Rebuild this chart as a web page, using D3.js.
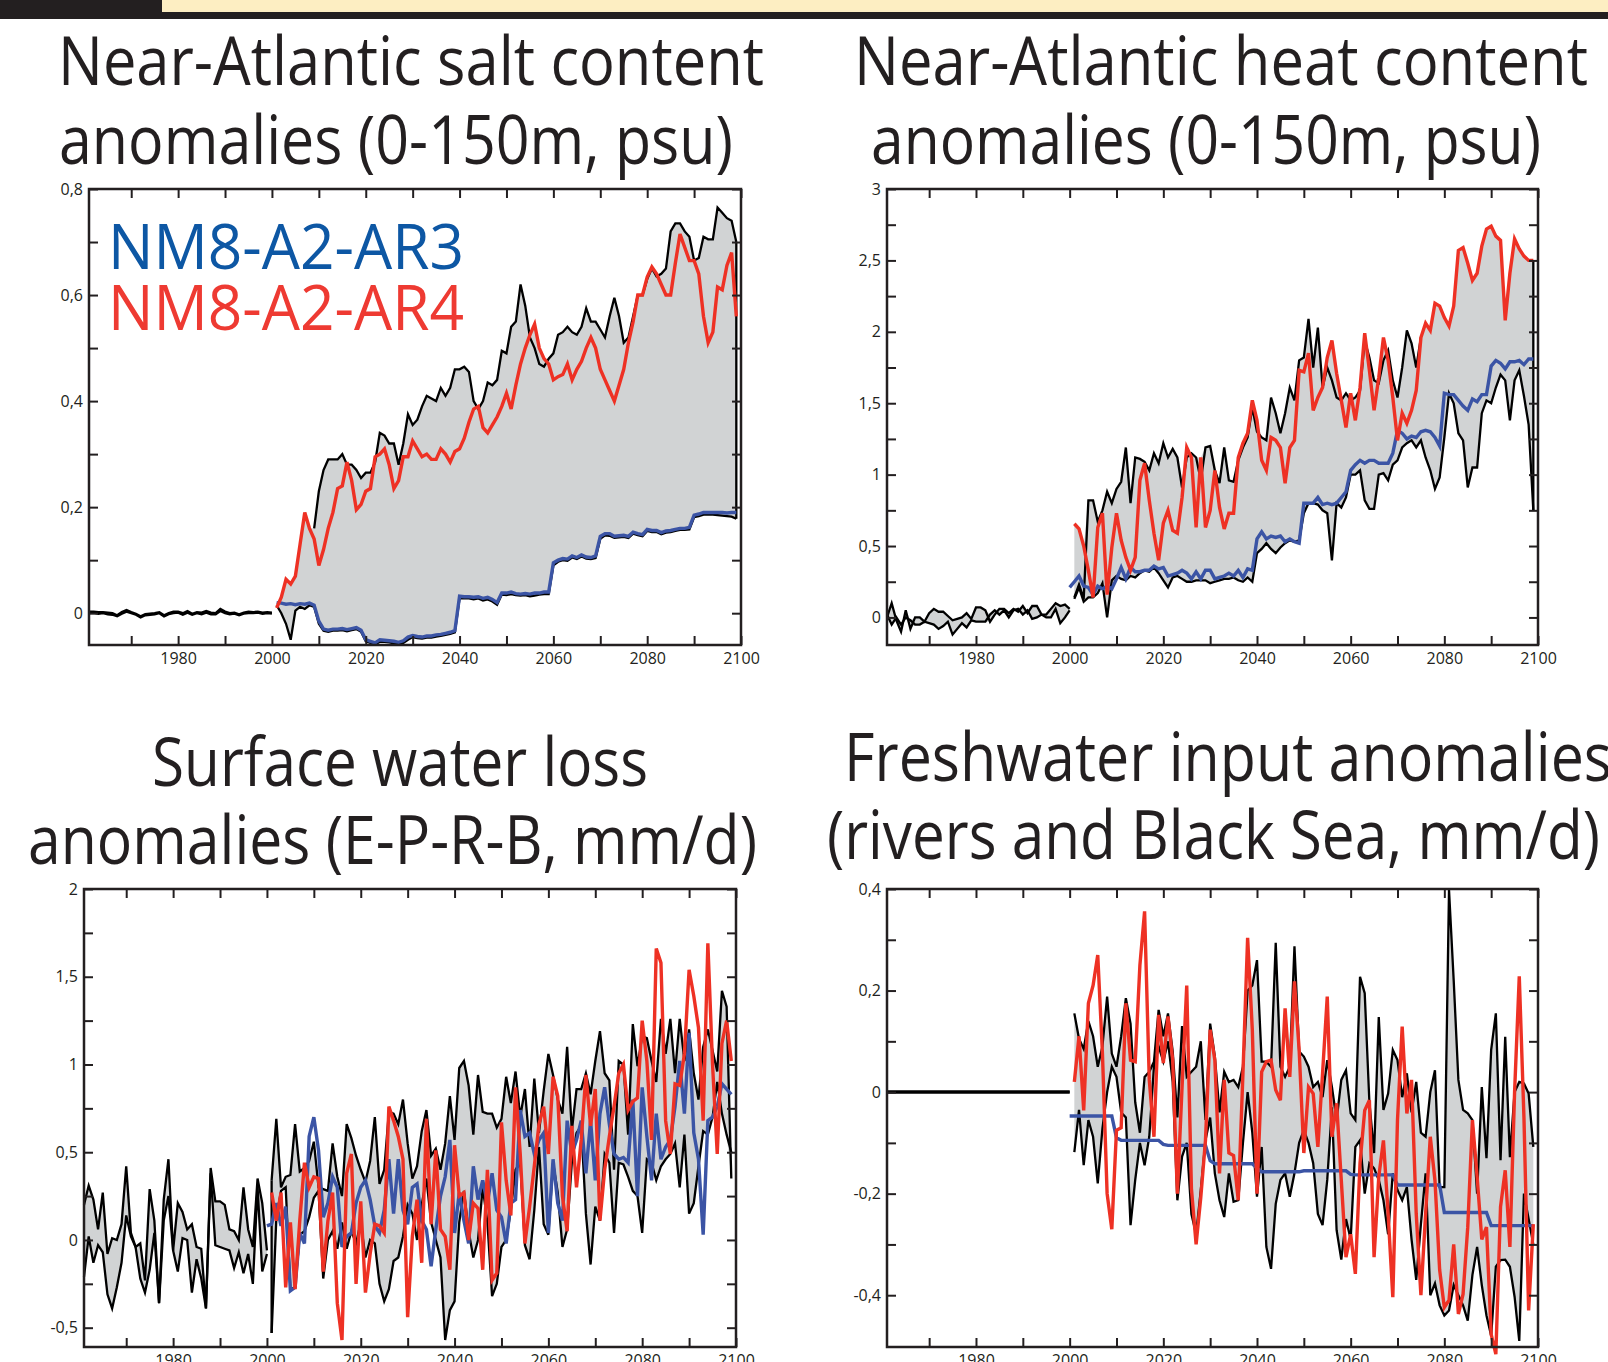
<!DOCTYPE html>
<html>
<head>
<meta charset="utf-8">
<script src="https://cdn.jsdelivr.net/npm/d3@7"></script>
<style>
  body { margin: 0; background: #fff; }
  svg { display: block; font-family: "Open Sans", sans-serif; }
</style>
</head>
<body>
<script>
// ---------- data ----------
// historical runs 1961-2000, scenario runs 2001-2099 (AR3 series of some panels start in 2000)

// Near-Atlantic salt content
const salt_hist_a = [0.003,0.003,0.002,0.002,0.001,0.000,-0.004,0.002,0.006,0.002,-0.001,-0.006,-0.002,-0.001,0.000,0.002,-0.004,0.000,0.003,0.003,0.000,0.004,-0.001,0.002,0.001,0.004,0.001,0.000,0.008,0.003,0.000,0.001,-0.002,0.001,0.003,0.002,0.003,0.001,0.002,0.001];
const salt_hist_b = [0.000,0.001,-0.001,0.000,-0.002,-0.003,-0.006,-0.001,0.003,0.000,-0.003,-0.008,-0.004,-0.003,-0.002,0.000,-0.006,-0.002,0.000,0.001,-0.003,0.001,-0.003,0.000,-0.002,0.001,-0.002,-0.002,0.004,0.000,-0.002,-0.001,-0.004,-0.001,0.000,0.000,0.001,-0.001,0.000,-0.001];
const salt_black_a = [
  null,null,null,null,null,null,null,null,0.16,0.23,
  0.27,0.29,0.29,0.29,0.30,0.28,0.28,0.27,0.255,0.265,
  0.265,0.285,0.34,0.335,0.32,0.32,0.28,0.32,0.375,0.355,
  0.365,0.39,0.41,0.405,0.40,0.425,0.41,0.425,0.46,0.46,
  0.465,0.455,0.40,0.385,0.40,0.435,0.43,0.44,0.495,0.49,
  0.54,0.55,0.62,0.58,0.52,0.50,0.47,0.465,0.48,0.49,
  0.525,0.53,0.54,0.53,0.525,0.54,0.575,0.55,0.55,0.535,
  0.52,0.56,0.595,0.56,0.51,0.52,0.56,0.60,0.60,0.63,
  0.65,0.635,0.64,0.65,0.72,0.735,0.735,0.72,0.71,0.665,
  0.67,0.71,0.705,0.705,0.765,0.755,0.745,0.74,0.70];
const salt_black_b = [
  0.015,0.0,-0.02,-0.05,0.005,0.012,0.008,0.015,0.012,-0.02,
  -0.033,-0.035,-0.033,-0.033,-0.032,-0.034,-0.032,-0.03,-0.035,-0.053,
  -0.056,-0.059,-0.054,-0.054,-0.055,-0.057,-0.059,-0.056,-0.05,-0.045,
  -0.047,-0.048,-0.046,-0.046,-0.044,-0.043,-0.041,-0.039,-0.036,0.028,
  0.028,0.028,0.026,0.028,0.024,0.026,0.022,0.016,0.035,0.034,
  0.036,0.034,0.033,0.034,0.032,0.033,0.035,0.036,0.036,0.09,
  0.097,0.1,0.099,0.105,0.102,0.107,0.103,0.102,0.104,0.14,
  0.147,0.146,0.142,0.143,0.144,0.142,0.15,0.147,0.145,0.155,
  0.153,0.153,0.149,0.152,0.153,0.155,0.157,0.157,0.158,0.181,
  0.183,0.186,0.186,0.186,0.185,0.184,0.183,0.182,0.178];
const salt_ar3 = [
  0.02,0.019,0.017,0.018,0.016,0.018,0.017,0.019,0.015,-0.015,
  -0.03,-0.032,-0.03,-0.03,-0.029,-0.031,-0.029,-0.027,-0.032,-0.05,
  -0.053,-0.056,-0.05,-0.051,-0.052,-0.053,-0.055,-0.052,-0.045,-0.042,
  -0.044,-0.045,-0.043,-0.043,-0.041,-0.04,-0.038,-0.036,-0.033,0.032,
  0.031,0.031,0.03,0.031,0.028,0.03,0.026,0.02,0.038,0.038,
  0.04,0.037,0.036,0.037,0.036,0.038,0.038,0.04,0.04,0.095,
  0.1,0.103,0.102,0.108,0.105,0.11,0.106,0.105,0.108,0.145,
  0.15,0.15,0.145,0.146,0.147,0.145,0.153,0.15,0.148,0.158,
  0.156,0.156,0.152,0.155,0.156,0.158,0.16,0.16,0.162,0.185,
  0.187,0.19,0.19,0.19,0.19,0.19,0.189,0.19,0.19];
const salt_ar4 = [
  0.01,0.03,0.064,0.055,0.07,0.13,0.19,0.16,0.14,0.09,
  0.12,0.16,0.19,0.235,0.24,0.285,0.25,0.195,0.205,0.23,
  0.235,0.295,0.30,0.31,0.28,0.235,0.25,0.295,0.295,0.325,
  0.31,0.295,0.30,0.29,0.29,0.31,0.30,0.285,0.305,0.31,
  0.33,0.36,0.385,0.39,0.35,0.34,0.355,0.37,0.39,0.415,
  0.385,0.43,0.47,0.50,0.525,0.545,0.50,0.48,0.47,0.44,
  0.446,0.45,0.47,0.44,0.46,0.475,0.50,0.52,0.50,0.46,
  0.44,0.42,0.40,0.43,0.46,0.51,0.55,0.60,0.60,0.634,
  0.653,0.64,0.62,0.60,0.60,0.66,0.715,0.69,0.665,0.665,
  0.64,0.56,0.51,0.53,0.615,0.61,0.656,0.68,0.56];

// Near-Atlantic heat content
const heat_hist_a = [0.0,0.1,-0.02,-0.1,0.05,-0.08,0.0,0.0,-0.03,0.03,0.06,0.04,0.04,0.01,-0.02,-0.01,0.0,0.03,-0.01,0.07,0.07,0.05,-0.03,0.02,0.06,0.06,0.03,0.06,0.04,0.08,0.03,0.08,0.08,0.02,0.02,0.06,0.1,0.08,0.09,0.06];
const heat_hist_b = [0.02,-0.05,0.0,-0.05,0.0,-0.02,-0.05,-0.05,-0.03,-0.04,-0.05,-0.08,-0.06,-0.03,-0.12,-0.08,-0.04,-0.07,-0.02,-0.03,-0.03,-0.03,0.02,0.05,0.02,0.05,0.0,0.05,0.06,0.02,0.05,-0.01,0.0,0.02,0.0,0.0,0.06,-0.04,0.0,0.05];
const heat_black_a = [
  0.14,0.23,0.13,0.82,0.82,0.67,0.75,0.88,0.80,0.90,
  0.95,1.19,0.80,1.12,1.11,1.09,1.03,1.15,1.08,1.22,
  1.12,1.18,1.12,0.91,1.12,1.15,1.12,0.96,1.19,1.20,
  1.03,0.94,1.19,0.96,0.95,1.10,1.19,1.26,1.47,1.30,
  1.26,1.24,1.54,1.43,1.29,1.43,1.61,1.52,1.80,1.82,
  2.09,1.75,2.03,1.61,1.75,1.66,1.54,1.52,1.57,1.52,
  1.54,1.59,1.94,1.82,1.66,1.64,1.80,1.87,1.66,1.54,
  1.75,2.01,1.92,1.75,1.96,null,null,null,null,null,
  null,null,null,null,null,null,null,null,null,null,
  null,null,null,null,null,null,null,null,null];
const heat_black_b = [
  0.13,0.21,0.11,0.14,0.14,0.17,0.24,0.0,0.26,0.29,
  0.27,0.26,0.29,0.28,0.31,0.33,0.32,0.35,0.31,0.26,
  0.21,0.28,0.29,0.27,0.25,0.25,0.26,0.26,0.26,0.24,
  0.25,0.26,0.27,0.27,0.28,0.26,0.25,0.28,0.25,0.45,
  0.48,0.52,0.48,0.45,0.49,0.52,0.54,0.53,0.54,0.73,
  0.80,0.80,0.79,0.75,0.73,0.40,0.80,0.77,0.84,1.00,
  1.00,1.03,0.82,0.76,0.76,1.00,1.01,0.96,1.07,1.10,
  1.19,1.22,1.24,1.19,1.24,1.12,1.03,0.90,0.98,1.26,
  1.57,1.50,1.29,1.24,0.91,1.05,1.05,1.43,1.52,1.50,
  1.61,1.70,1.66,1.38,1.66,1.73,1.55,1.35,0.75];
const heat_ar3 = [0.21,
  0.25,0.29,0.22,0.21,0.16,0.22,0.20,0.22,0.20,0.27,
  0.35,0.27,0.35,0.32,0.32,0.33,0.33,0.36,0.34,0.35,
  0.29,0.30,0.31,0.33,0.31,0.27,0.32,0.27,0.33,0.33,
  0.27,0.28,0.29,0.31,0.29,0.33,0.28,0.34,0.33,0.55,
  0.60,0.55,0.57,0.56,0.57,0.53,0.55,0.53,0.52,0.80,
  0.80,0.80,0.84,0.79,0.80,0.79,0.80,0.84,0.88,1.03,
  1.07,1.10,1.08,1.10,1.10,1.08,1.08,1.08,1.15,1.31,
  1.29,1.25,1.27,1.26,1.30,1.31,1.30,1.26,1.20,1.57,
  1.56,1.56,1.52,1.48,1.45,1.53,1.51,1.56,1.56,1.76,
  1.80,1.78,1.74,1.79,1.79,1.80,1.77,1.81,1.81];
const heat_ar4 = [
  0.656,0.62,0.50,0.33,0.14,0.63,0.73,0.16,0.49,0.73,
  0.54,0.42,0.33,0.42,0.96,1.08,0.82,0.59,0.40,0.66,
  0.75,0.61,0.59,0.84,1.19,1.12,0.63,1.12,0.63,0.75,
  1.03,0.77,0.62,0.73,0.73,1.12,1.22,1.29,1.52,1.38,
  1.10,1.03,1.26,1.24,1.19,0.94,1.19,1.24,1.73,1.72,
  1.85,1.45,1.54,1.61,1.82,1.94,1.71,1.52,1.33,1.57,
  1.38,1.61,1.99,1.73,1.45,1.68,1.96,1.80,1.54,1.24,
  1.43,1.36,1.45,1.59,1.96,2.06,2.01,2.20,2.18,2.10,
  2.04,2.18,2.57,2.59,2.48,2.36,2.41,2.60,2.72,2.74,
  2.67,2.64,2.08,2.41,2.65,2.58,2.53,2.50,2.50];

// Surface water loss (E-P-R-B)
const loss_hist_a = [0.20,0.31,0.23,0.06,0.27,-0.08,0.01,0.00,0.09,0.42,0.04,-0.04,-0.02,-0.23,0.29,0.11,-0.36,0.23,0.46,-0.06,0.21,0.16,0.06,0.09,-0.04,-0.05,-0.39,0.41,0.22,0.22,0.20,0.06,0.05,0.00,0.30,0.06,-0.04,0.35,0.21,-0.06];
const loss_hist_b = [-0.21,0.02,-0.13,-0.03,-0.07,-0.31,-0.39,-0.27,-0.13,0.14,0.02,-0.04,-0.22,-0.30,-0.17,0.04,-0.36,0.11,0.25,-0.06,-0.18,0.01,0.00,-0.30,-0.11,-0.22,-0.39,0.38,-0.03,-0.04,-0.05,-0.06,-0.16,-0.07,-0.19,-0.08,-0.25,0.30,-0.18,-0.08];
const loss_black_a = [
  0.34,0.69,0.30,0.36,0.37,0.66,0.39,0.41,0.45,0.56,
  0.30,0.29,0.28,0.55,0.36,0.25,0.66,0.58,0.48,0.40,
  0.33,0.45,0.70,0.32,0.40,0.73,0.72,0.66,0.80,0.55,
  0.35,0.42,0.62,0.74,0.48,0.52,0.40,0.55,0.82,0.57,
  0.98,1.02,0.88,0.60,0.94,0.73,0.72,0.72,0.64,0.69,
  0.93,0.78,0.96,0.70,0.86,0.53,0.92,0.61,0.85,1.06,
  0.94,0.80,0.72,1.10,0.62,0.86,0.86,0.95,0.83,1.02,
  1.19,0.95,0.91,0.40,1.02,1.00,0.60,1.23,0.99,1.16,
  1.15,1.02,0.90,1.26,1.06,1.26,0.95,1.26,1.02,1.20,
  0.95,0.80,1.10,1.20,1.08,0.96,1.42,1.33,0.35];
const loss_black_b = [
  -0.53,0.12,0.28,0.30,-0.28,-0.27,0.03,0.05,0.13,0.24,
  0.28,-0.22,0.0,0.05,-0.05,0.10,-0.05,0.05,-0.02,0.10,
  -0.10,0.0,-0.02,-0.25,-0.35,-0.28,-0.12,-0.10,0.02,0.20,
  0.15,0.0,0.20,0.35,0.10,0.0,-0.10,-0.57,-0.40,-0.35,
  0.10,0.28,0.05,-0.10,0.0,0.30,0.10,-0.32,-0.25,-0.04,
  0.0,0.17,0.40,0.44,-0.03,-0.11,0.17,0.53,0.09,0.03,
  0.44,0.27,-0.04,0.06,0.44,0.61,0.65,0.15,-0.14,0.19,
  0.11,0.49,0.44,0.04,0.44,0.43,0.36,0.28,0.25,0.04,
  0.46,0.44,0.34,0.42,0.46,0.49,0.55,0.30,0.60,0.15,
  0.21,0.42,0.62,0.60,0.70,0.90,0.72,0.60,0.50];
const loss_ar3 = [0.08,
  0.09,0.21,0.08,0.19,-0.29,-0.27,0.04,-0.02,0.59,0.70,
  0.51,0.13,0.21,0.36,0.30,-0.04,0.02,0.04,0.21,0.30,
  0.34,0.23,0.08,0.04,0.17,0.46,0.15,0.46,0.17,0.09,
  0.30,0.32,0.11,0.06,-0.15,0.06,0.25,0.36,0.57,0.04,
  0.27,0.11,-0.02,0.42,0.23,0.34,0.21,0.38,0.17,0.13,
  -0.02,0.21,0.23,0.74,0.59,0.61,0.49,0.57,0.61,0.04,
  0.46,0.21,0.11,0.68,0.49,0.57,0.68,0.38,0.68,0.34,
  0.72,0.87,0.66,0.49,0.46,0.47,0.44,0.80,0.25,0.87,
  0.59,0.34,0.72,0.46,0.53,0.57,0.76,1.02,0.72,1.18,
  0.61,0.46,0.03,0.68,0.70,0.76,0.89,0.86,0.83];
const loss_ar4 = [
  0.27,0.11,0.27,-0.27,0.10,-0.28,0.11,0.44,0.30,0.36,
  0.35,-0.18,0.11,0.27,-0.36,-0.57,0.38,0.49,-0.25,0.22,
  -0.30,-0.08,0.09,0.08,0.04,0.76,0.68,0.59,0.46,-0.44,
  0.02,0.23,-0.13,0.69,0.09,0.51,0.06,0.02,-0.17,0.54,
  0.25,0.27,0.0,0.21,0.18,-0.17,0.40,-0.23,-0.19,0.67,
  0.34,0.14,0.87,0.49,-0.02,0.19,0.42,0.66,0.76,0.49,
  0.93,0.82,0.25,0.05,0.65,0.30,0.57,0.94,0.65,0.86,
  0.11,0.40,0.59,0.76,0.95,1.0,0.74,0.79,0.81,1.25,
  1.02,0.57,1.66,1.58,0.68,0.49,0.89,0.88,1.06,1.54,
  1.39,1.21,0.68,1.69,1.0,0.49,1.12,1.25,1.02];

// Freshwater input (rivers and Black Sea)
const fresh_hist_a = [0,0,0,0,0,0,0,0,0,0,0,0,0,0,0,0,0,0,0,0,0,0,0,0,0,0,0,0,0,0,0,0,0,0,0,0,0,0,0,0];
const fresh_hist_b = [0,0,0,0,0,0,0,0,0,0,0,0,0,0,0,0,0,0,0,0,0,0,0,0,0,0,0,0,0,0,0,0,0,0,0,0,0,0,0,0];
const fresh_black_a = [
  0.155,0.105,0.085,0.14,0.11,0.05,0.09,0.188,0.076,0.05,
  0.11,0.185,0.135,-0.02,-0.08,0.03,0.04,0.06,0.162,0.11,
  0.155,0.08,-0.05,0.13,0.03,0.04,0.05,0.10,-0.055,0.135,
  0.07,-0.04,0.04,0.02,0.024,0.01,0.05,0.20,0.21,0.26,
  0.06,0.06,0.05,0.294,0.05,0.03,0.05,0.287,0.08,0.07,
  0.05,0.01,0.02,-0.01,0.063,0.01,-0.055,0.024,0.043,-0.042,
  -0.055,0.227,0.195,-0.02,-0.12,0.148,-0.035,-0.003,0.083,0.063,
  -0.01,0.037,-0.04,0.02,-0.08,-0.088,0.0,0.043,-0.187,-0.187,
  0.398,0.22,0.024,-0.035,-0.042,-0.055,-0.2,0.01,-0.13,0.083,
  0.155,-0.134,0.109,-0.128,0.0,0.02,0.017,-0.003,-0.108];
const fresh_black_b = [
  -0.118,-0.035,-0.144,-0.055,-0.088,-0.18,-0.072,0.0,0.05,0.03,
  -0.04,-0.05,-0.262,-0.173,-0.1,-0.144,-0.088,0.05,0.09,0.06,
  0.1,0.02,-0.213,-0.127,-0.1,-0.24,-0.28,-0.193,-0.095,-0.05,
  -0.16,-0.213,-0.246,-0.16,-0.216,-0.213,-0.1,0.0,-0.08,-0.206,
  -0.108,-0.305,-0.348,-0.22,-0.173,-0.16,-0.206,-0.16,-0.1,-0.075,
  -0.1,-0.14,-0.24,-0.262,-0.173,-0.03,-0.272,-0.33,-0.25,-0.29,
  -0.108,-0.095,-0.2,-0.14,-0.15,-0.173,-0.213,-0.28,-0.16,-0.193,
  -0.213,-0.187,-0.29,-0.37,-0.26,-0.16,-0.40,-0.377,-0.42,-0.44,
  -0.43,-0.38,-0.40,-0.42,-0.45,-0.36,-0.305,-0.38,-0.44,-0.48,
  -0.344,-0.331,-0.33,-0.344,-0.403,-0.49,-0.2,-0.25,-0.3];
const fresh_ar3 = [
  -0.047,-0.047,-0.047,-0.047,-0.047,-0.047,-0.047,-0.047,-0.047,-0.047,
  -0.09,-0.095,-0.095,-0.095,-0.095,-0.095,-0.095,-0.095,-0.095,-0.095,
  -0.103,-0.105,-0.105,-0.105,-0.105,-0.105,-0.105,-0.105,-0.105,-0.105,
  -0.135,-0.141,-0.141,-0.141,-0.141,-0.141,-0.141,-0.141,-0.141,-0.141,
  -0.15,-0.157,-0.157,-0.157,-0.157,-0.157,-0.157,-0.157,-0.157,-0.157,
  -0.155,-0.155,-0.155,-0.155,-0.155,-0.155,-0.155,-0.155,-0.155,-0.155,
  -0.162,-0.163,-0.163,-0.163,-0.163,-0.163,-0.163,-0.163,-0.163,-0.163,
  -0.183,-0.183,-0.183,-0.183,-0.183,-0.183,-0.183,-0.183,-0.183,-0.183,
  -0.237,-0.237,-0.237,-0.237,-0.237,-0.237,-0.237,-0.237,-0.237,-0.237,
  -0.263,-0.263,-0.263,-0.263,-0.263,-0.263,-0.263,-0.263,-0.263,-0.263];
const fresh_ar4 = [
  0.02,0.11,-0.036,0.175,0.21,0.27,0.076,-0.20,-0.27,-0.075,
  -0.07,0.175,0.063,0.06,0.25,0.356,0.024,-0.088,0.152,0.057,
  0.149,0.063,-0.2,0.01,0.21,-0.19,-0.30,-0.207,-0.095,0.123,
  0.063,-0.16,0.024,-0.12,-0.125,-0.213,0.037,0.304,0.123,-0.20,
  0.04,0.06,0.063,0.004,-0.016,0.165,0.03,0.218,0.083,-0.12,
  0.01,-0.003,-0.108,0.037,0.188,-0.088,-0.022,-0.174,-0.325,-0.28,
  -0.358,-0.14,-0.036,-0.016,-0.325,-0.167,-0.095,-0.24,-0.404,-0.055,
  0.129,-0.042,0.024,-0.24,-0.40,-0.24,-0.088,-0.174,-0.35,-0.424,
  -0.41,-0.30,-0.437,-0.398,-0.266,-0.055,-0.167,-0.29,-0.266,-0.477,
  -0.516,-0.226,-0.154,-0.305,0.0,0.228,-0.05,-0.43,-0.26];

// axis ticks
const xTicks = [1970,1980,1990,2000,2010,2020,2030,2040,2050,2060,2070,2080,2090,2100];
const xLabels = [1980,2000,2020,2040,2060,2080,2100];
const salt_yticks = [0,0.1,0.2,0.3,0.4,0.5,0.6,0.7,0.8];
const salt_ylabels = [0,0.2,0.4,0.6,0.8];
const heat_yticks = [0,0.25,0.5,0.75,1,1.25,1.5,1.75,2,2.25,2.5,2.75,3];
const heat_ylabels = [0,0.5,1,1.5,2,2.5,3];
const loss_yticks = [-0.5,-0.25,0,0.25,0.5,0.75,1,1.25,1.5,1.75,2];
const loss_ylabels = [-0.5,0,0.5,1,1.5,2];
const fresh_yticks = [-0.4,-0.3,-0.2,-0.1,0,0.1,0.2,0.3,0.4];
const fresh_ylabels = [-0.4,-0.2,0,0.2,0.4];

const legendNames = ["NM8-A2-AR3", "NM8-A2-AR4"];

// ---------- drawing ----------
const W = 1608, H = 1362;
const GRAY = "#d1d3d4", INK = "#231f20", RED = "#ee3124", BLUE = "#3b54a5";

const svg = d3.select("body").append("svg")
  .attr("width", W)
  .attr("height", H);

// banner strip at the top
svg.append("rect").attr("x", 0).attr("y", 0).attr("width", W).attr("height", 19).attr("fill", INK);
svg.append("rect").attr("x", 162).attr("y", 0).attr("width", W - 162).attr("height", 12).attr("fill", "#fdeec2");

const histYears = d3.range(1961, 2001);
const futYears = d3.range(2001, 2100);

function toPoints(start, vals) {
  return vals.map((v, i) => ({ year: start + i, v: v }));
}

const fmt = v => String(Math.round(v * 100) / 100).replace(".", ",");

function drawPanel(p) {
  const x = d3.scaleLinear().domain([1961, 2100]).range([p.left, p.right]);
  const y = d3.scaleLinear().domain(p.yDomain).range([p.bottom, p.top]);
  const g = svg.append("g");

  // titles
  p.title.forEach(t => {
    g.append("text")
      .attr("x", t.x).attr("y", t.y)
      .attr("textLength", t.w).attr("lengthAdjust", "spacingAndGlyphs")
      .attr("font-size", 68).attr("fill", INK)
      .text(t.text);
  });

  const area = d3.area().x(d => x(d.year)).y0(d => y(d.lo)).y1(d => y(d.hi));
  const line = d3.line().defined(d => d.v != null).x(d => x(d.year)).y(d => y(d.v));

  // shading between the historical runs
  const hist = histYears.map((yr, i) => ({
    year: yr, hi: Math.max(p.histA[i], p.histB[i]), lo: Math.min(p.histA[i], p.histB[i])
  }));
  g.append("path").datum(hist).attr("d", area).attr("fill", GRAY);

  // shading of the scenario spread
  const ar3 = toPoints(p.ar3Start, p.ar3);
  const ar4 = toPoints(2001, p.ar4);
  const a3 = new Map(ar3.map(d => [d.year, d.v]));
  const a4 = new Map(ar4.map(d => [d.year, d.v]));
  const spread = futYears.map((yr, i) => {
    let vals = [p.blackA[i], p.blackB[i]];
    if (p.envelopeAll) vals = vals.concat([a3.get(yr), a4.get(yr)]);
    vals = vals.filter(v => v != null);
    return { year: yr, hi: d3.max(vals), lo: d3.min(vals) };
  });
  g.append("path").datum(spread).attr("d", area).attr("fill", GRAY);

  // black runs
  [p.histA, p.histB].forEach(vals => {
    g.append("path").datum(toPoints(1961, vals)).attr("d", line)
      .attr("fill", "none").attr("stroke", "#000").attr("stroke-width", p.histWidth || 2.3);
  });
  [p.blackA, p.blackB].forEach(vals => {
    g.append("path").datum(toPoints(2001, vals)).attr("d", line)
      .attr("fill", "none").attr("stroke", "#000").attr("stroke-width", 2.3);
  });
  // closing edges of the shaded spread
  spread.filter(d => p.closeYears.includes(d.year)).forEach(d => {
    g.append("line")
      .attr("x1", x(d.year)).attr("x2", x(d.year))
      .attr("y1", y(d.hi)).attr("y2", y(d.lo))
      .attr("stroke", "#000").attr("stroke-width", 2.3);
  });

  // AR3 and AR4 runs
  g.append("path").datum(ar3).attr("d", line)
    .attr("fill", "none").attr("stroke", BLUE).attr("stroke-width", 3.4);
  g.append("path").datum(ar4).attr("d", line)
    .attr("fill", "none").attr("stroke", RED).attr("stroke-width", 3.4);

  // axes, ticks pointing inwards on all four sides
  const tickLen = 9;
  const styleAxis = sel => {
    sel.select(".domain").remove();
    sel.selectAll(".tick line").attr("stroke", INK).attr("stroke-width", 2);
    sel.selectAll(".tick text").attr("fill", INK).attr("font-size", 16)
      .attr("font-family", "'Open Sans', sans-serif");
  };
  g.append("g").attr("transform", `translate(0,${p.bottom})`)
    .call(d3.axisBottom(x).tickValues(xTicks).tickSize(-tickLen).tickSizeOuter(0).tickPadding(8)
      .tickFormat(d => xLabels.includes(d) ? d : ""))
    .call(styleAxis);
  g.append("g").attr("transform", `translate(0,${p.top})`)
    .call(d3.axisTop(x).tickValues(xTicks).tickSize(-tickLen).tickSizeOuter(0).tickFormat(""))
    .call(styleAxis);
  g.append("g").attr("transform", `translate(${p.left},0)`)
    .call(d3.axisLeft(y).tickValues(p.yTicks).tickSize(-tickLen).tickSizeOuter(0).tickPadding(6)
      .tickFormat(d => p.yLabels.includes(d) ? fmt(d) : ""))
    .call(styleAxis);
  g.append("g").attr("transform", `translate(${p.right},0)`)
    .call(d3.axisRight(y).tickValues(p.yTicks).tickSize(-tickLen).tickSizeOuter(0).tickFormat(""))
    .call(styleAxis);

  g.append("rect")
    .attr("x", p.left).attr("y", p.top)
    .attr("width", p.right - p.left).attr("height", p.bottom - p.top)
    .attr("fill", "none").attr("stroke", INK).attr("stroke-width", 2.5);

  return g;
}

const saltPanel = drawPanel({
  left: 89, right: 741, top: 189, bottom: 645, yDomain: [-0.06, 0.8],
  yTicks: salt_yticks, yLabels: salt_ylabels,
  histA: salt_hist_a, histB: salt_hist_b, blackA: salt_black_a, blackB: salt_black_b,
  ar3: salt_ar3, ar3Start: 2001, ar4: salt_ar4, envelopeAll: true, closeYears: [2099],
  title: [
    { text: "Near-Atlantic salt content", x: 58, y: 85, w: 706 },
    { text: "anomalies (0-150m, psu)", x: 59, y: 164, w: 674 }
  ]
});

drawPanel({
  left: 887, right: 1538, top: 189, bottom: 645, yDomain: [-0.193, 3],
  yTicks: heat_yticks, yLabels: heat_ylabels,
  histA: heat_hist_a, histB: heat_hist_b, blackA: heat_black_a, blackB: heat_black_b,
  ar3: heat_ar3, ar3Start: 2000, ar4: heat_ar4, envelopeAll: true, closeYears: [2099],
  title: [
    { text: "Near-Atlantic heat content", x: 854, y: 85, w: 734 },
    { text: "anomalies (0-150m, psu)", x: 871, y: 164, w: 670 }
  ]
});

drawPanel({
  left: 84, right: 736, top: 889, bottom: 1347, yDomain: [-0.61, 2],
  yTicks: loss_yticks, yLabels: loss_ylabels,
  histA: loss_hist_a, histB: loss_hist_b, blackA: loss_black_a, blackB: loss_black_b,
  ar3: loss_ar3, ar3Start: 2000, ar4: loss_ar4, envelopeAll: false, closeYears: [2001],
  title: [
    { text: "Surface water loss", x: 152, y: 786, w: 496 },
    { text: "anomalies (E-P-R-B, mm/d)", x: 28, y: 864, w: 729 }
  ]
});

drawPanel({
  left: 887, right: 1538, top: 889, bottom: 1347, yDomain: [-0.502, 0.4],
  yTicks: fresh_yticks, yLabels: fresh_ylabels,
  histA: fresh_hist_a, histB: fresh_hist_b, blackA: fresh_black_a, blackB: fresh_black_b,
  ar3: fresh_ar3, ar3Start: 2000, ar4: fresh_ar4, envelopeAll: false, closeYears: [],
  histWidth: 3,
  title: [
    { text: "Freshwater input anomalies", x: 844, y: 781, w: 768 },
    { text: "(rivers and Black Sea, mm/d)", x: 827, y: 859, w: 773 }
  ]
});

// legend in the salt panel
saltPanel.selectAll(".legend")
  .data(legendNames)
  .enter()
  .append("text")
  .attr("class", "legend")
  .attr("x", 108)
  .attr("y", (d, i) => 269 + i * 61)
  .attr("textLength", 356).attr("lengthAdjust", "spacingAndGlyphs")
  .attr("font-size", 63)
  .attr("fill", (d, i) => i === 0 ? "#0d57a4" : "#ee3a32")
  .text(d => d);
</script>
</body>
</html>
